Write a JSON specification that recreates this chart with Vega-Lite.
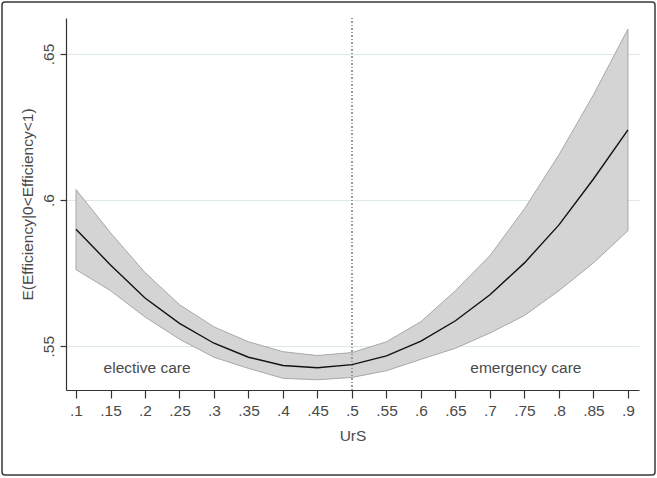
{
  "$schema": "https://vega.github.io/schema/vega-lite/v6.json",
  "width": 653,
  "height": 473,
  "autosize": {"type": "none"},
  "padding": {"left": 2, "top": 2, "right": 2, "bottom": 3},
  "background": "white",
  "config": {
    "font": "Liberation Sans",
    "view": {"stroke": "#3a3a3a", "strokeWidth": 1.5, "cornerRadius": 3},
    "axis": {
      "labelFont": "Liberation Sans",
      "titleFont": "Liberation Sans",
      "labelFontSize": 15.5,
      "titleFontSize": 15.5,
      "labelColor": "#4a4a4a",
      "titleColor": "#4a4a4a",
      "titleFontWeight": "normal",
      "domainColor": "#333333",
      "tickColor": "#333333",
      "domainWidth": 1.2,
      "tickWidth": 1.2
    }
  },
  "data": {
    "values": [
      {"urs": 0.10, "mean": 0.5900, "lo": 0.5762, "hi": 0.6036},
      {"urs": 0.15, "mean": 0.5778, "lo": 0.5690, "hi": 0.5888},
      {"urs": 0.20, "mean": 0.5665, "lo": 0.5600, "hi": 0.5752},
      {"urs": 0.25, "mean": 0.5578, "lo": 0.5524, "hi": 0.5642},
      {"urs": 0.30, "mean": 0.5510, "lo": 0.5462, "hi": 0.5566},
      {"urs": 0.35, "mean": 0.5462, "lo": 0.5424, "hi": 0.5515},
      {"urs": 0.40, "mean": 0.5434, "lo": 0.5390, "hi": 0.5481},
      {"urs": 0.45, "mean": 0.5426, "lo": 0.5385, "hi": 0.5468},
      {"urs": 0.50, "mean": 0.5437, "lo": 0.5393, "hi": 0.5478},
      {"urs": 0.55, "mean": 0.5467, "lo": 0.5416, "hi": 0.5515},
      {"urs": 0.60, "mean": 0.5517, "lo": 0.5455, "hi": 0.5584},
      {"urs": 0.65, "mean": 0.5587, "lo": 0.5493, "hi": 0.5690},
      {"urs": 0.70, "mean": 0.5676, "lo": 0.5545, "hi": 0.5810},
      {"urs": 0.75, "mean": 0.5785, "lo": 0.5605, "hi": 0.5970},
      {"urs": 0.80, "mean": 0.5915, "lo": 0.5690, "hi": 0.6155},
      {"urs": 0.85, "mean": 0.6072, "lo": 0.5785, "hi": 0.6360},
      {"urs": 0.90, "mean": 0.6240, "lo": 0.5895, "hi": 0.6585}
    ]
  },
  "encoding": {
    "x": {
      "field": "urs",
      "type": "quantitative",
      "scale": {"domain": [0.0855, 0.916], "range": [64, 637], "nice": false, "zero": false},
      "axis": {
        "title": "UrS",
        "offset": -85,
        "values": [0.1, 0.15, 0.2, 0.25, 0.3, 0.35, 0.4, 0.45, 0.5, 0.55, 0.6, 0.65, 0.7, 0.75, 0.8, 0.85, 0.9],
        "labelExpr": "substring(format(datum.value, '.2~f'), 1)",
        "grid": false,
        "tickSize": 8,
        "labelPadding": 5,
        "titlePadding": 10,
        "labelFlush": false,
        "labelOverlap": false
      }
    }
  },
  "layer": [
    {
      "mark": {"type": "area", "fill": "#d4d4d4", "stroke": "#a8a8a8", "strokeWidth": 1, "fillOpacity": 1},
      "encoding": {
        "y": {
          "field": "lo",
          "type": "quantitative",
          "scale": {"domain": [0.535, 0.6623], "range": [388, 16], "nice": false, "zero": false},
          "axis": {
            "title": "E(Efficiency|0<Efficiency<1)",
            "offset": -64,
            "values": [0.55, 0.6, 0.65],
            "labelExpr": "substring(format(datum.value, '.2~f'), 1)",
            "grid": true,
            "gridColor": "#dde8ea",
            "gridWidth": 1,
            "tickSize": 6,
            "labelAngle": 270,
            "labelPadding": 4,
            "titlePadding": 6,
            "labelFlush": false
          }
        },
        "y2": {"field": "hi"}
      }
    },
    {
      "mark": {"type": "rule", "color": "#9a9a9a", "strokeWidth": 1, "strokeDash": [1, 2.5]},
      "encoding": {
        "x": {"datum": 0.5},
        "y": {"datum": 0.535},
        "y2": {"datum": 0.6623}
      }
    },
    {
      "mark": {"type": "line", "color": "#111111", "strokeWidth": 1.4},
      "encoding": {
        "y": {"field": "mean", "type": "quantitative"}
      }
    },
    {
      "data": {
        "values": [
          {"urs": 0.203, "y": 0.5425, "label": "elective care"},
          {"urs": 0.752, "y": 0.5425, "label": "emergency care"}
        ]
      },
      "mark": {"type": "text", "fontSize": 15.5, "color": "#4a4a4a", "font": "Liberation Sans", "baseline": "middle", "align": "center"},
      "encoding": {
        "y": {"field": "y", "type": "quantitative"},
        "text": {"field": "label"}
      }
    }
  ]
}
